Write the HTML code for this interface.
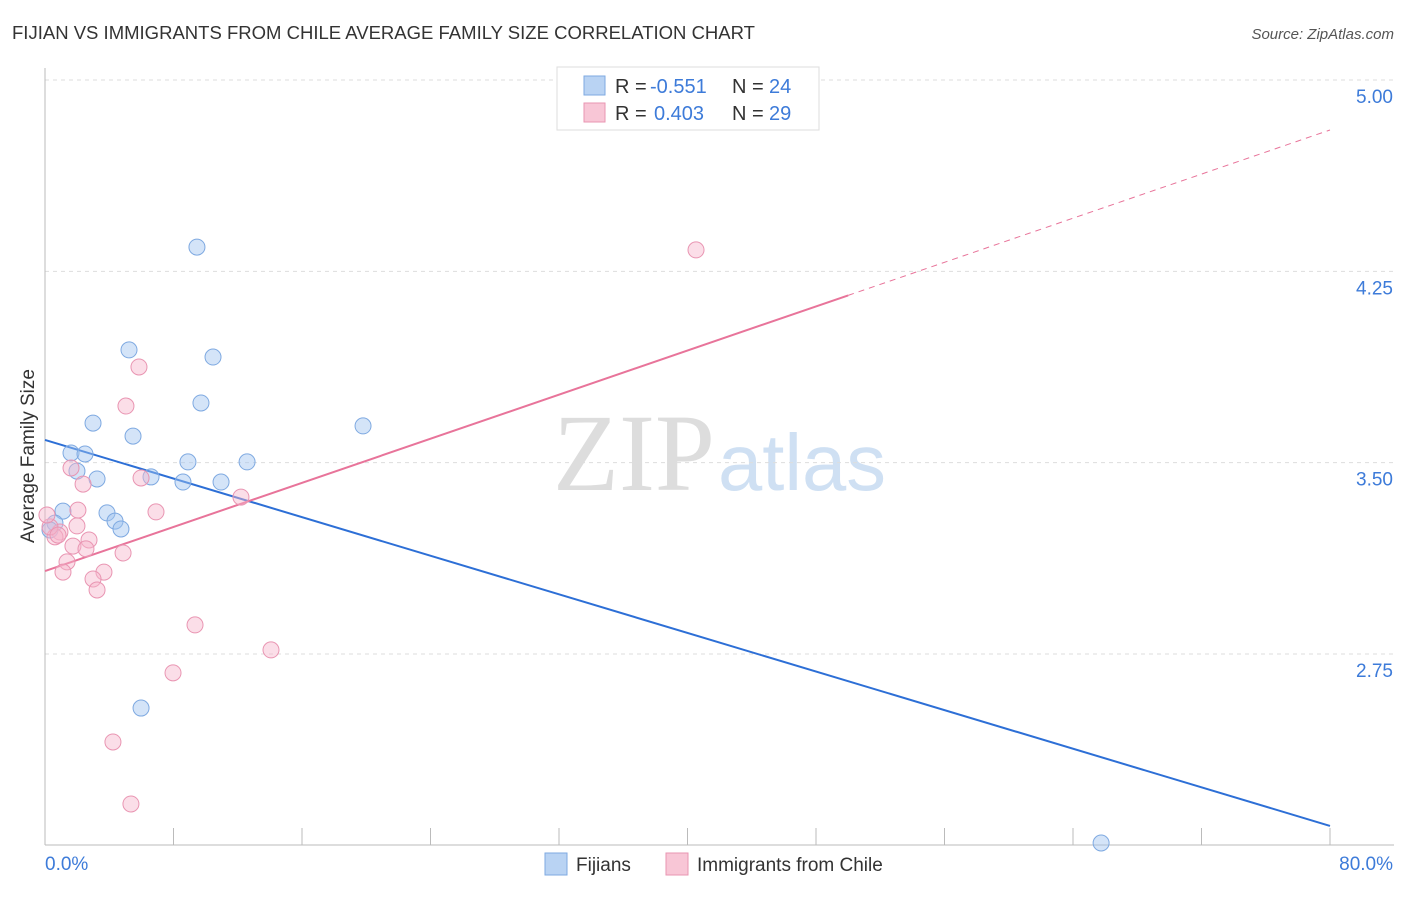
<!DOCTYPE html>
<html><head><meta charset="utf-8"><style>
body{margin:0;background:#fff;font-family:"Liberation Sans",sans-serif;}
svg text{font-family:"Liberation Sans",sans-serif;}
</style></head><body>
<svg id="chart" width="1406" height="892">
<text x="12" y="39" font-size="18" fill="#333" textLength="743" lengthAdjust="spacingAndGlyphs">FIJIAN VS IMMIGRANTS FROM CHILE AVERAGE FAMILY SIZE CORRELATION CHART</text>
<text x="1394" y="39" font-size="15" fill="#555" font-style="italic" text-anchor="end">Source: ZipAtlas.com</text>
<text x="34" y="456" font-size="19" fill="#333" text-anchor="middle" transform="rotate(-90 34 456)">Average Family Size</text>
<g>
<text x="553" y="490" font-size="110" fill="#ddd" textLength="162" lengthAdjust="spacingAndGlyphs" style="font-family:'Liberation Serif',serif">ZIP</text>
<text x="718" y="490" font-size="80" fill="#cfe0f3" textLength="168" lengthAdjust="spacingAndGlyphs">atlas</text>
</g>
<g id="grid"></g><g id="axes"></g><g id="lines"></g><g id="points"></g>
<g>
<rect x="557" y="67" width="262" height="63" fill="#fff" stroke="#ddd"/>
<rect x="584" y="76" width="21" height="19" fill="#b9d3f3" stroke="#7ea9e1"/>
<rect x="584" y="103" width="21" height="19" fill="#f8c6d6" stroke="#e995b2"/>
<text x="615" y="93" font-size="20" fill="#333">R =</text>
<text x="650" y="93" font-size="20" fill="#3d7bd9">-0.551</text>
<text x="732" y="93" font-size="20" fill="#333">N =</text>
<text x="769" y="93" font-size="20" fill="#3d7bd9">24</text>
<text x="615" y="120" font-size="20" fill="#333">R =</text>
<text x="654" y="120" font-size="20" fill="#3d7bd9">0.403</text>
<text x="732" y="120" font-size="20" fill="#333">N =</text>
<text x="769" y="120" font-size="20" fill="#3d7bd9">29</text>
</g>
<g>
<rect x="545" y="853" width="22" height="22" fill="#b9d3f3" stroke="#7ea9e1"/>
<text x="576" y="871" font-size="19" fill="#333">Fijians</text>
<rect x="666" y="853" width="22" height="22" fill="#f8c6d6" stroke="#e995b2"/>
<text x="697" y="871" font-size="19" fill="#333">Immigrants from Chile</text>
</g>
</svg>
<script>
const yTicks=[5.00,4.25,3.50,2.75];
const yTickLabels=["5.00","4.25","3.50","2.75"];
const fijiX=[9.46,5.23,10.46,9.71,2.99,5.48,19.80,1.62,2.49,1.99,3.24,6.60,8.59,10.96,8.90,12.58,1.12,3.86,4.36,4.73,0.62,0.31,5.98,65.75];
const fijiY=[4.345,3.942,3.914,3.734,3.655,3.604,3.644,3.538,3.534,3.467,3.436,3.444,3.424,3.424,3.503,3.503,3.310,3.303,3.271,3.240,3.263,3.236,2.538,2.009];
const chileX=[40.53,5.85,5.04,1.62,2.37,5.98,12.20,6.91,2.05,1.99,2.74,1.74,2.55,0.93,0.62,0.31,0.12,1.37,1.12,3.67,4.86,2.99,3.24,9.34,14.07,7.97,4.23,5.35,0.81];
const chileY=[4.334,3.875,3.722,3.479,3.416,3.440,3.365,3.307,3.314,3.252,3.197,3.173,3.162,3.228,3.209,3.248,3.295,3.111,3.071,3.071,3.146,3.044,3.001,2.864,2.766,2.676,2.405,2.162,3.216];
const fijiTrend=[3.589,2.076];
const chileTrend=[3.075,4.804];
const chileSolidEnd=50.0;

const NS="http://www.w3.org/2000/svg";
const X=v=>45+v/80*1285;
const Y=v=>80+(5-v)*255.1;
function mk(tag,attrs,parent){const e=document.createElementNS(NS,tag);for(const k in attrs)e.setAttribute(k,attrs[k]);document.getElementById(parent).appendChild(e);return e;}
yTicks.forEach((t,i)=>{
  const l=mk('line',{x1:45,x2:1394,y1:Y(t),y2:Y(t),stroke:'#ddd','stroke-dasharray':'4 4'},'grid');
  
  
  const tx=mk('text',{x:1393,y:Y(t)+23,'font-size':19,fill:'#3d7bd9','text-anchor':'end'},'grid');
  tx.textContent=yTickLabels[i];
  
  
});
const ax=mk('line',{x1:45,x2:1394,y1:845,y2:845,stroke:'#bbb'},'axes');


const ay=mk('line',{x1:45,x2:45,y1:68,y2:845,stroke:'#bbb'},'axes');


for(let i=0;i<=10;i++){const t=mk('line',{x1:X(i*8),x2:X(i*8),y1:828,y2:845,stroke:'#bbb'},'axes');
  
  }
const x0=mk('text',{x:45,y:870,'font-size':19,fill:'#3d7bd9'},'axes');x0.textContent='0.0%';


const x1=mk('text',{x:1393,y:870,'font-size':19,fill:'#3d7bd9','text-anchor':'end'},'axes');x1.textContent='80.0%';


function dot(x,y,f,s,name){const c=mk('circle',{cx:X(x),cy:Y(y),r:8,fill:f,stroke:s,'stroke-width':1},'points');
  
  }
fijiX.forEach((x,i)=>dot(x,fijiY[i],'rgba(160,196,240,0.45)','#7ea9e1','fijian-point'));
chileX.forEach((x,i)=>dot(x,chileY[i],'rgba(246,182,204,0.45)','#e995b2','chile-point'));
const bl=mk('line',{x1:X(0),y1:Y(fijiTrend[0]),x2:X(80),y2:Y(fijiTrend[1]),stroke:'#2d6fd6','stroke-width':2},'lines');


const cy=x=>chileTrend[0]+(chileTrend[1]-chileTrend[0])*x/80;
const pl=mk('line',{x1:X(0),y1:Y(cy(0)),x2:X(chileSolidEnd),y2:Y(cy(chileSolidEnd)),stroke:'#e8749a','stroke-width':2},'lines');


const pd=mk('line',{x1:X(chileSolidEnd),y1:Y(cy(chileSolidEnd)),x2:X(80),y2:Y(cy(80)),stroke:'#e8749a','stroke-width':1,'stroke-dasharray':'6 5'},'lines');


</script>
</body></html>
